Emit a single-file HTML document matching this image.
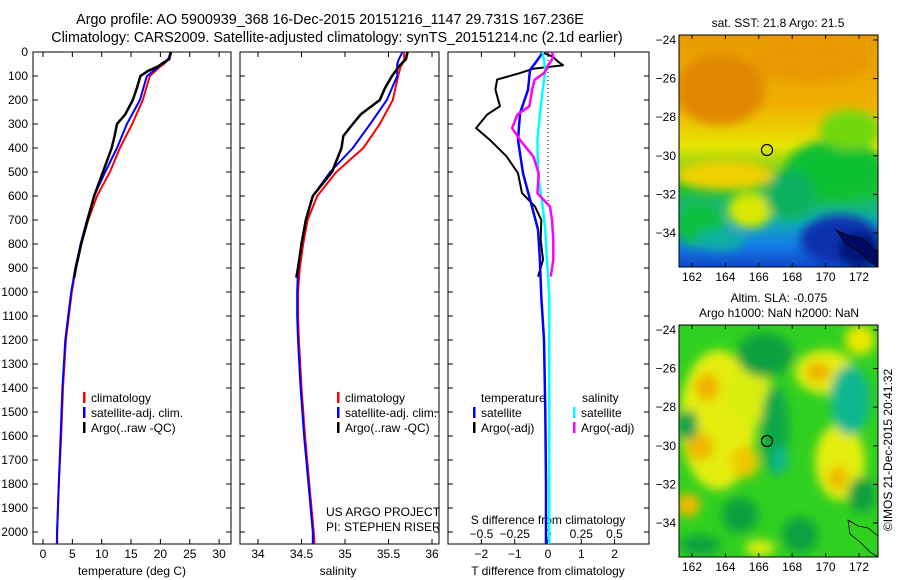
<!DOCTYPE html>
<html><head><meta charset="utf-8">
<style>
body{margin:0;background:#fff;width:900px;height:580px;overflow:hidden}
svg{display:block;font-family:"Liberation Sans",sans-serif;font-size:12px}
</style></head>
<body>
<svg id="fig" width="900" height="580" viewBox="0 0 900 580">
<defs>
<filter id="blur1" x="-50%" y="-50%" width="200%" height="200%"><feGaussianBlur stdDeviation="5"/></filter>
<filter id="blur2" x="-50%" y="-50%" width="200%" height="200%"><feGaussianBlur stdDeviation="5"/></filter>
<clipPath id="clipM1"><rect x="679" y="35" width="199" height="232"/></clipPath>
<clipPath id="clipM2"><rect x="679" y="325" width="199" height="232"/></clipPath>
<linearGradient id="sstg" x1="0" y1="0" x2="0" y2="1">
<stop offset="0" stop-color="#e89a00"/><stop offset="0.3" stop-color="#f0b000"/>
<stop offset="0.48" stop-color="#e6e600"/><stop offset="0.66" stop-color="#20c030"/>
<stop offset="0.8" stop-color="#10b0b0"/><stop offset="0.9" stop-color="#1480e8"/>
<stop offset="1" stop-color="#1048c8"/></linearGradient>
</defs>
<text x="330" y="24" text-anchor="middle" font-size="14.3">Argo profile: AO 5900939_368 16-Dec-2015 20151216_1147 29.731S 167.236E</text>
<text x="337" y="42" text-anchor="middle" font-size="14.3">Climatology: CARS2009. Satellite-adjusted climatology: synTS_20151214.nc (2.1d earlier)</text>
<g id="charts"></g>
<!-- Map 1 -->
<g>
<text x="778" y="27" text-anchor="middle">sat. SST: 21.8 Argo: 21.5</text>
<g clip-path="url(#clipM1)">
<rect x="679" y="35" width="199" height="232" fill="url(#sstg)"/>
<g filter="url(#blur1)">
<ellipse cx="720" cy="90" rx="45" ry="35" fill="#e08800"/>
<ellipse cx="810" cy="60" rx="60" ry="22" fill="#e89a00"/>
<ellipse cx="835" cy="170" rx="50" ry="30" fill="#10c030"/>
<ellipse cx="850" cy="130" rx="30" ry="20" fill="#70d810"/>
<ellipse cx="725" cy="175" rx="50" ry="15" fill="#f0d000"/>
<ellipse cx="750" cy="210" rx="22" ry="18" fill="#d8e800"/>
<ellipse cx="700" cy="225" rx="25" ry="22" fill="#10c040"/>
<ellipse cx="720" cy="240" rx="25" ry="10" fill="#10b0a0"/>
<ellipse cx="790" cy="195" rx="25" ry="25" fill="#10b060"/>
<ellipse cx="840" cy="240" rx="40" ry="25" fill="#0a30b0"/>
<ellipse cx="860" cy="250" rx="22" ry="18" fill="#001478"/>
</g>
<path d="M836 230 L850 236 L862 238 L872 248 L878 252 L878 267 L870 262 L860 252 L846 244 Z" fill="#000a60" stroke="#000" stroke-width="0.8"/>
</g>
<rect x="679" y="35" width="199" height="232" fill="none" stroke="#000"/>
<circle cx="767" cy="150" r="5.5" fill="none" stroke="#000" stroke-width="1.2"/>
</g>
<!-- Map 2 -->
<g>
<text x="779" y="302" text-anchor="middle">Altim. SLA: -0.075</text>
<text x="779" y="317" text-anchor="middle">Argo h1000: NaN h2000: NaN</text>
<g clip-path="url(#clipM2)">
<rect x="679" y="325" width="199" height="232" fill="#30d020"/>
<g filter="url(#blur2)">
<ellipse cx="718" cy="420" rx="38" ry="70" fill="#e4ee10"/>
<ellipse cx="750" cy="395" rx="22" ry="30" fill="#d8ee10"/>
<ellipse cx="707" cy="387" rx="12" ry="14" fill="#f0b000"/>
<ellipse cx="700" cy="447" rx="14" ry="14" fill="#f0b800"/>
<ellipse cx="745" cy="462" rx="14" ry="16" fill="#f0c800"/>
<ellipse cx="688" cy="505" rx="12" ry="12" fill="#f0b800"/>
<ellipse cx="825" cy="372" rx="30" ry="22" fill="#e4ee10"/>
<ellipse cx="818" cy="372" rx="12" ry="10" fill="#f0b000"/>
<ellipse cx="840" cy="462" rx="25" ry="38" fill="#e4ee10"/>
<ellipse cx="838" cy="478" rx="10" ry="12" fill="#f0b800"/>
<ellipse cx="860" cy="340" rx="15" ry="15" fill="#e8e800"/>
<ellipse cx="765" cy="355" rx="28" ry="22" fill="#10a040"/>
<ellipse cx="775" cy="430" rx="14" ry="45" fill="#10a848"/>
<ellipse cx="780" cy="460" rx="8" ry="14" fill="#10b890"/>
<ellipse cx="850" cy="400" rx="20" ry="35" fill="#10b890"/>
<ellipse cx="688" cy="425" rx="10" ry="15" fill="#10a050"/>
<ellipse cx="740" cy="515" rx="18" ry="18" fill="#10a040"/>
<ellipse cx="800" cy="535" rx="18" ry="18" fill="#10a040"/>
<ellipse cx="862" cy="495" rx="14" ry="18" fill="#10a040"/>
<ellipse cx="700" cy="545" rx="20" ry="10" fill="#10a040"/>
<ellipse cx="760" cy="548" rx="15" ry="8" fill="#e0ee10"/>
</g>
<path d="M848 520 L858 526 L868 528 L878 536 L878 557 L870 552 L860 542 L850 534 Z" fill="none" stroke="#000" stroke-width="0.8"/>
</g>
<rect x="679" y="325" width="199" height="232" fill="none" stroke="#000"/>
<circle cx="767" cy="441" r="5.5" fill="none" stroke="#000" stroke-width="1.2"/>
</g>
<text transform="translate(892,450) rotate(-90)" text-anchor="middle">©IMOS 21-Dec-2015 20:41:32</text>
<g id="maptext"></g>
</svg>
<script>
const depthT=[0,30,50,60,100,200,300,400,500,600,700,800,900,1000,1100,1200,1400,1600,1800,2000,2050];
const tempClim=[21.7,21.4,20.6,20.0,18.2,17.0,15.2,13.1,11.4,9.2,7.7,6.5,5.6,4.9,4.4,3.9,3.4,3.1,2.7,2.4,2.35];
const tempSat=[21.8,21.3,20.3,19.8,17.7,16.5,14.3,12.6,10.6,8.7,7.5,6.4,5.5,4.8,4.3,3.8,3.3,3.0,2.7,2.4,2.4];
const depthArgo=[0,30,45,60,80,100,150,200,260,300,350,400,500,600,700,800,900,940];
const tempArgo=[21.8,21.5,20.5,19.6,17.8,16.6,16.0,15.3,14.0,12.6,12.2,11.7,10.2,8.7,7.6,6.5,5.6,5.3];
const salClim=[35.68,35.68,35.66,35.64,35.61,35.55,35.40,35.21,34.90,34.68,34.57,34.52,34.48,34.46,34.46,34.47,34.50,34.54,34.59,34.64,34.65];
const salSat=[35.66,35.62,35.60,35.60,35.60,35.48,35.29,35.09,34.83,34.63,34.55,34.50,34.46,34.45,34.45,34.46,34.49,34.53,34.58,34.63,34.63];
const salArgo=[35.72,35.70,35.66,35.62,35.58,35.54,35.46,35.40,35.18,35.09,34.98,34.96,34.85,34.63,34.55,34.50,34.46,34.44];
const depthD=[0,40,75,158,255,367,505,645,740,850,1020,1200,1500,1800,2000,2050];
const dTsat=[-0.15,-0.35,-0.54,-0.6,-0.84,-0.9,-0.75,-0.48,-0.3,-0.25,-0.2,-0.12,-0.08,-0.06,-0.06,-0.06];
const dSsat=[-0.04,-0.03,-0.02,-0.04,-0.06,-0.08,-0.075,-0.04,-0.02,-0.01,0.01,0.01,0.01,0.01,0.01,0.01];
const depthDA=[0,20,40,55,70,88,115,157,226,261,317,367,436,505,588,644,700,783,866,936];
const dTargo=[-0.2,0.15,0.3,0.45,-0.45,-0.84,-1.53,-1.58,-1.44,-1.83,-2.16,-1.74,-1.24,-0.9,-0.78,-0.39,-0.2,-0.22,-0.15,-0.3];
const dSargo=[0.03,0.04,0.02,0.0,-0.01,-0.03,-0.1,-0.12,-0.14,-0.23,-0.27,-0.21,-0.11,-0.07,-0.08,0.015,0.03,0.04,0.04,0.02];
const depthTicks=[0,100,200,300,400,500,600,700,800,900,1000,1100,1200,1300,1400,1500,1600,1700,1800,1900,2000];
const tTicks=[0,5,10,15,20,25,30];
const sTicks=[34,34.5,35,35.5,36];
const dtTicks=[-2,-1,0,1,2];
const dsTicks=[-0.5,-0.25,0,0.25,0.5];
const lonTicks=[162,164,166,168,170,172];
const latTicks=[-24,-26,-28,-30,-32,-34];

const NS='http://www.w3.org/2000/svg';
const root=document.getElementById('charts');
function mk(tag,attrs,parent){const e=document.createElementNS(NS,tag);for(const k in attrs)e.setAttribute(k,attrs[k]);(parent||root).appendChild(e);return e;}
const TOP=52,BOT=544;
const yD=d=>TOP+d*0.24;
const xT=t=>43+t*5.87;
const xS=s=>258+(s-34)*87;
const xDT=t=>548+t*33.3;
const xDS=s=>548+s*133;
function line(xs,ds,fx,color,w,name){
  const pts=xs.map((v,i)=>fx(v).toFixed(1)+','+yD(ds[i]).toFixed(1)).join(' ');
  const p=mk('polyline',{points:pts,fill:'none',stroke:color,'stroke-width':w,'stroke-linejoin':'round'});
  
  
}
function frame(x0,x1,name){
  const r=mk('rect',{x:x0,y:TOP,width:x1-x0,height:BOT-TOP,fill:'none',stroke:'#000'});
  
  
}
function xticks(vals,fx,ylab,x0,x1,top){
  vals.forEach(v=>{const x=fx(v);
    mk('line',{x1:x,x2:x,y1:BOT,y2:BOT-5,stroke:'#000'});
    if(top)mk('line',{x1:x,x2:x,y1:TOP,y2:TOP+5,stroke:'#000'});
    if(ylab){const t=mk('text',{x:x,y:ylab,'text-anchor':'middle'});t.textContent=String(v).replace('-','\u2212');
      
      }
  });
}
function legend(x,y,items,name){
  items.forEach((it,i)=>{
    mk('rect',{x:x,y:y+i*15-6,width:2.5,height:11,fill:it[0]});
    const t=mk('text',{x:x+8,y:y+i*15+4});t.textContent=it[1];
    
    
  });
}
// Panel 1
frame(33,231,'temperature-panel');
depthTicks.forEach(d=>{const y=yD(d);
  mk('line',{x1:33,x2:38,y1:y,y2:y,stroke:'#000'});
  mk('line',{x1:226,x2:231,y1:y,y2:y,stroke:'#000'});
  const t=mk('text',{x:28,y:y+4,'text-anchor':'end'});t.textContent=d;
  
  
});
xticks(tTicks,xT,558,33,231,true);
let tt=mk('text',{x:132,y:575,'text-anchor':'middle'});tt.textContent='temperature (deg C)';


line(tempClim,depthT,xT,'#ff0000',2,'temp-climatology-line');
line(tempSat,depthT,xT,'#0000ff',2,'temp-satellite-line');
line(tempArgo,depthArgo,xT,'#000000',2.5,'temp-argo-line');
legend(83,398,[['#f00','climatology'],['#00f','satellite-adj. clim.'],['#000','Argo(..raw -QC)']],'temp-legend-entry');
// Panel 2
frame(240,439,'salinity-panel');
depthTicks.forEach(d=>{const y=yD(d);
  mk('line',{x1:240,x2:245,y1:y,y2:y,stroke:'#000'});
  mk('line',{x1:434,x2:439,y1:y,y2:y,stroke:'#000'});});
xticks(sTicks,xS,558,240,439,true);
tt=mk('text',{x:338,y:575,'text-anchor':'middle'});tt.textContent='salinity';


line(salClim,depthT,xS,'#ff0000',2,'sal-climatology-line');
line(salSat,depthT,xS,'#0000ff',2,'sal-satellite-line');
line(salArgo,depthArgo,xS,'#000000',2.5,'sal-argo-line');
legend(337,398,[['#f00','climatology'],['#00f','satellite-adj. clim.'],['#000','Argo(..raw -QC)']],'sal-legend-entry');
tt=mk('text',{x:326,y:516});tt.textContent='US ARGO PROJECT';


tt=mk('text',{x:326,y:531});tt.textContent='PI: STEPHEN RISER';


// Panel 3
frame(448,649,'difference-panel');
depthTicks.forEach(d=>{const y=yD(d);
  mk('line',{x1:448,x2:453,y1:y,y2:y,stroke:'#000'});
  mk('line',{x1:644,x2:649,y1:y,y2:y,stroke:'#000'});});
xticks(dtTicks,xDT,558,448,649,true);
dsTicks.forEach(v=>{const t=mk('text',{x:xDS(v),y:538,'text-anchor':'middle'});t.textContent=String(v).replace('-','\u2212');
  
  });
tt=mk('text',{x:548,y:524,'text-anchor':'middle'});tt.textContent='S difference from climatology';


tt=mk('text',{x:548,y:575,'text-anchor':'middle'});tt.textContent='T difference from climatology';


const zl=mk('line',{x1:548,x2:548,y1:yD(0),y2:yD(640),stroke:'#000','stroke-dasharray':'1,3'});


line(dTargo,depthDA,xDT,'#000000',2,'dt-argo-line');
line(dTsat,depthD,xDT,'#0000ff',2.5,'dt-satellite-line');
line(dSsat,depthD,xDS,'#00ffff',2.5,'ds-satellite-line');
line(dSargo,depthDA,xDS,'#ff00ff',2.5,'ds-argo-line');
tt=mk('text',{x:481,y:402});tt.textContent='temperature';


tt=mk('text',{x:582,y:402});tt.textContent='salinity';


legend(473,413,[['#00f','satellite'],['#000','Argo(-adj)']],'dt-legend-entry');
legend(573,413,[['#0ff','satellite'],['#f0f','Argo(-adj)']],'ds-legend-entry');
// map axes
const mt=document.getElementById('maptext');
[[35,267,40],[325,557,330]].forEach(([top,bot,y24],mi)=>{
  latTicks.forEach(l=>{const y=y24+(-24-l)*19.3;
    mk('line',{x1:873,x2:878,y1:y,y2:y,stroke:'#000'},mt);
    const t=mk('text',{x:676,y:y+4,'text-anchor':'end'},mt);t.textContent=String(l).replace('-','\u2212');
    
    });
  lonTicks.forEach(l=>{const x=692+(l-162)*16.7;
    mk('line',{x1:x,x2:x,y1:top,y2:top+4,stroke:'#000'},mt);
    mk('line',{x1:x,x2:x,y1:bot,y2:bot-4,stroke:'#000'},mt);
    const t=mk('text',{x:x,y:bot+14,'text-anchor':'middle'},mt);t.textContent=l;
    
    });
});
</script>
</body></html>
